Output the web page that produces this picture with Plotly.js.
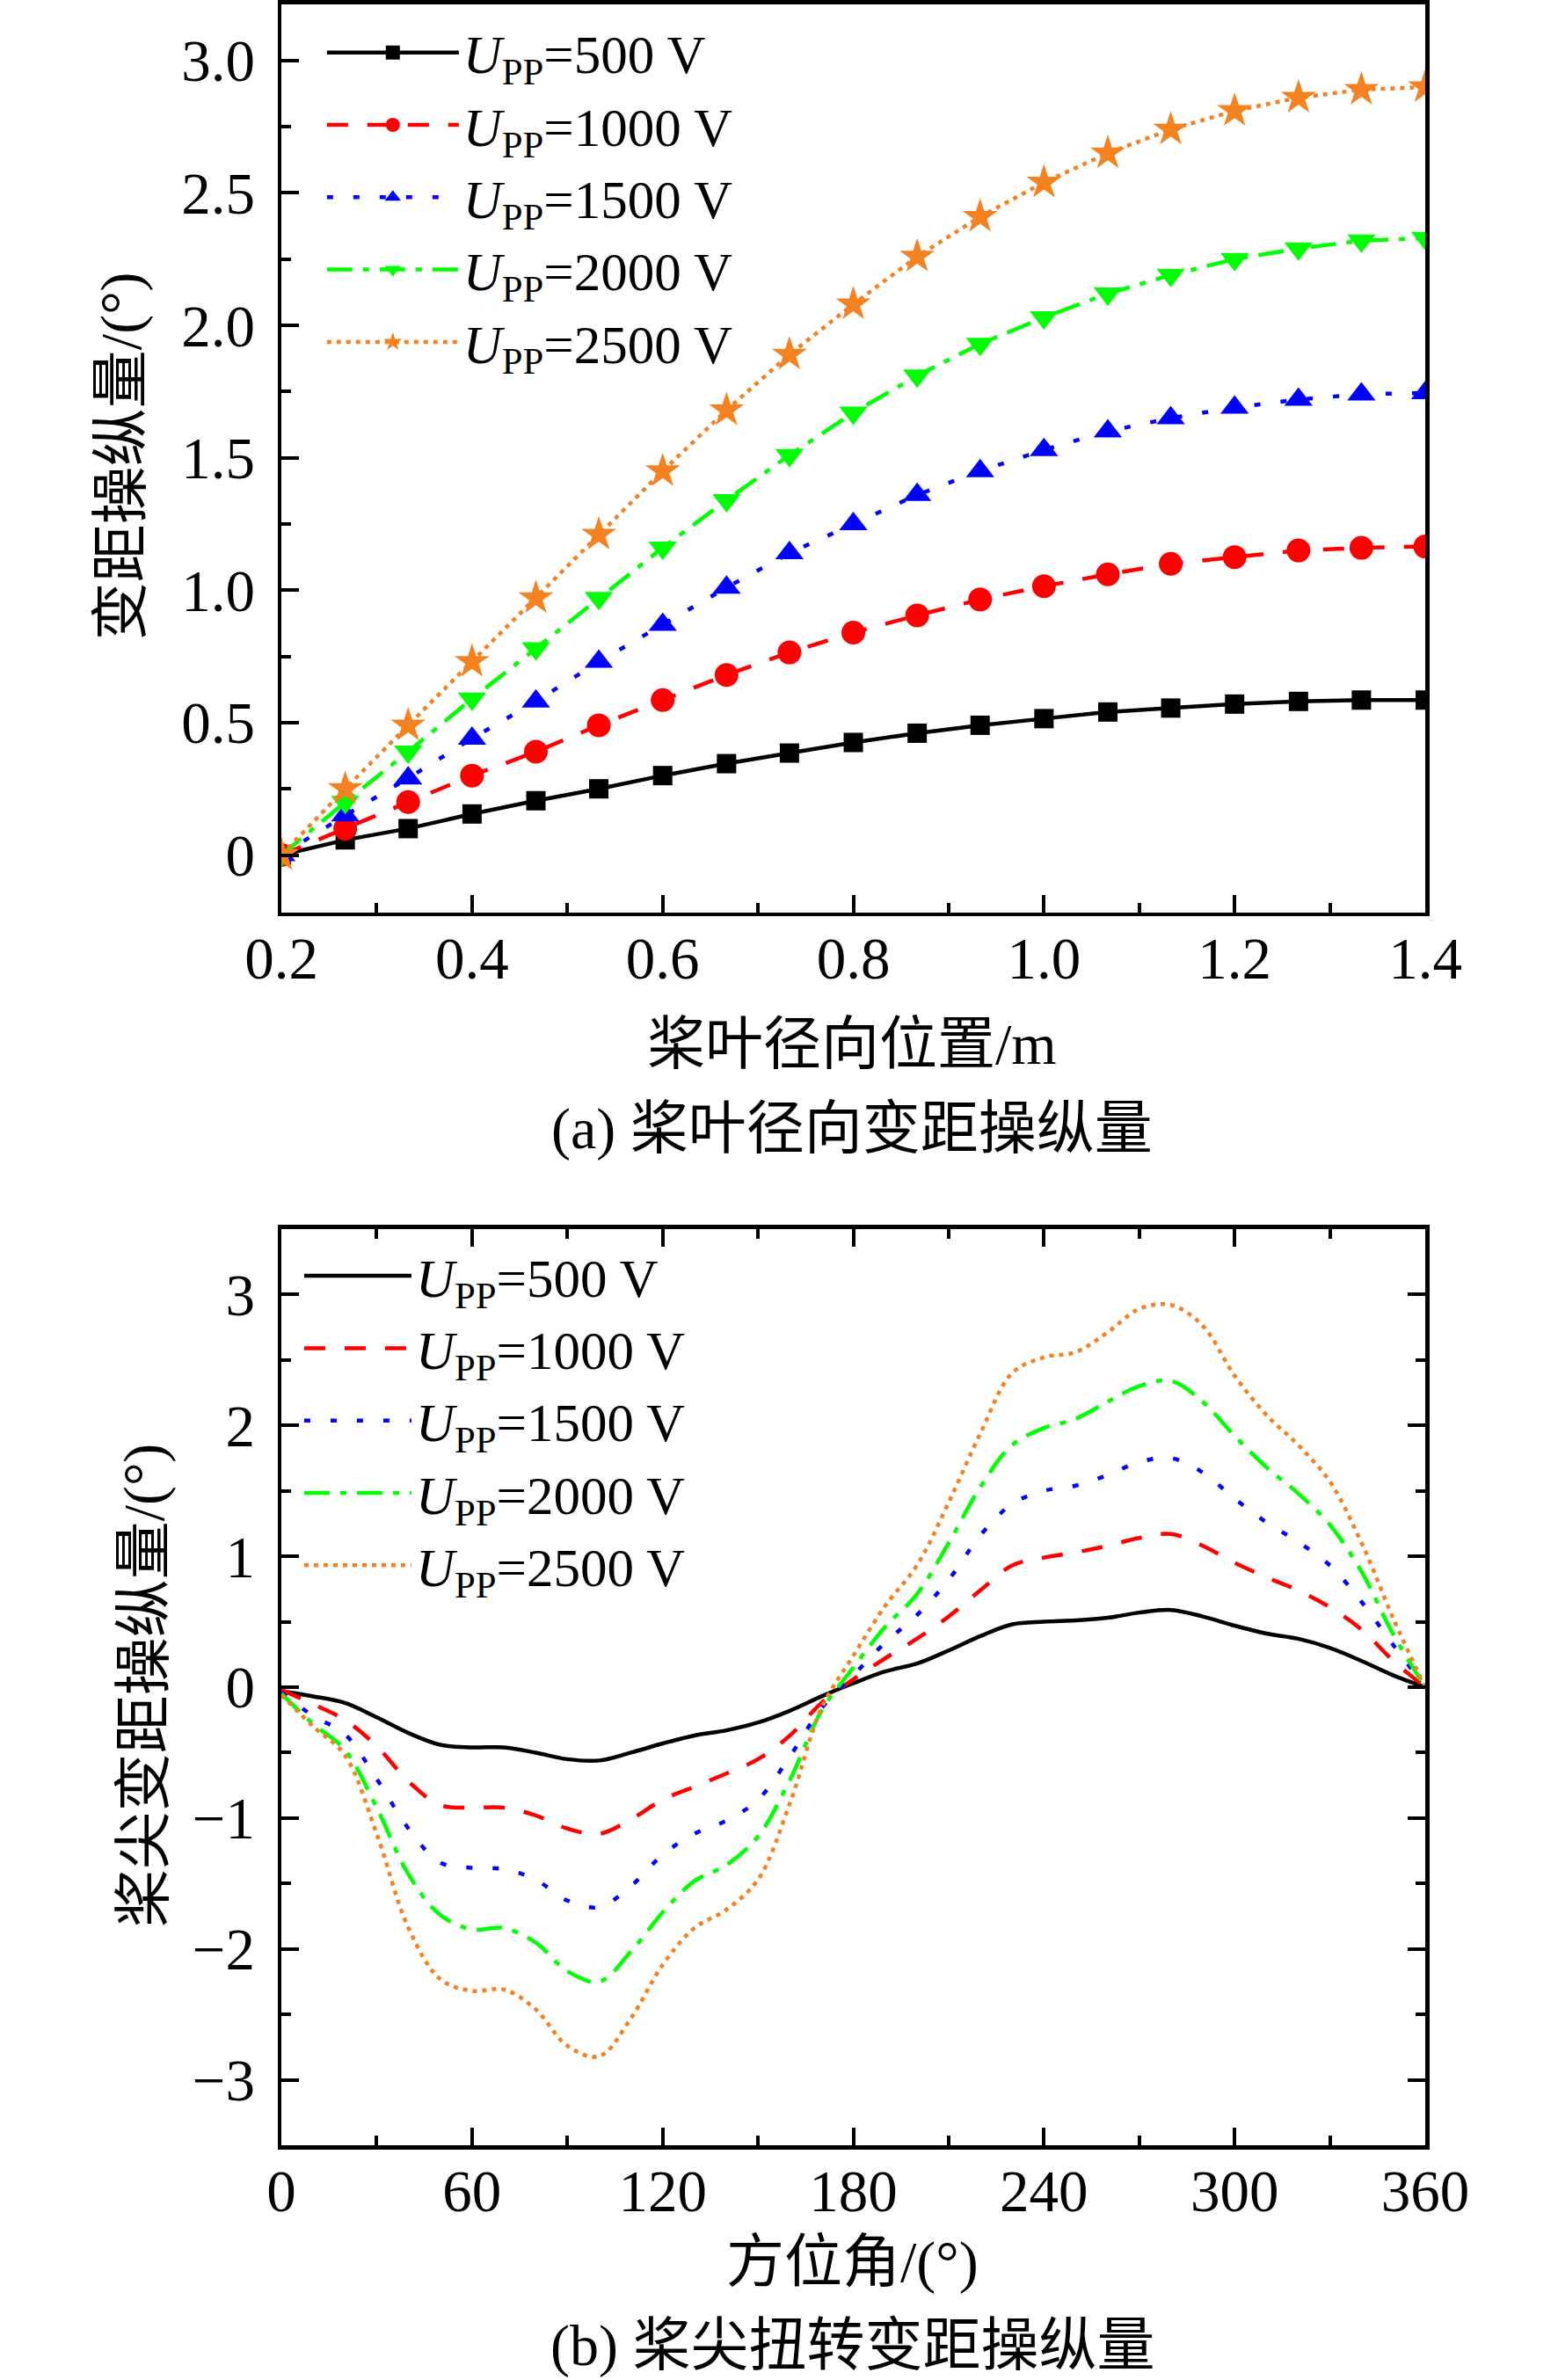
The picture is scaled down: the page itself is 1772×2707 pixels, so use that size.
<!DOCTYPE html>
<html>
<head>
<meta charset="utf-8">
<script src="https://cdn.plot.ly/plotly-3.0.1.min.js"></script>
<style>html,body{margin:0;padding:0;background:#fff;}</style>
</head>
<body>
<div id="chart" style="width:1772px;height:2707px;"></div>
<script>
// ---------- data ----------
const legendNames = ['<i>U</i><sub>PP</sub>=500 V', '<i>U</i><sub>PP</sub>=1000 V', '<i>U</i><sub>PP</sub>=1500 V', '<i>U</i><sub>PP</sub>=2000 V', '<i>U</i><sub>PP</sub>=2500 V'];

// (a) radial position (m)
const radialPos = [0.2, 0.267, 0.333, 0.4, 0.467, 0.533, 0.6, 0.667, 0.733, 0.8, 0.867, 0.933, 1.0, 1.067, 1.133, 1.2, 1.267, 1.333, 1.4];
const pitchA500  = [0, 0.057, 0.10, 0.155, 0.205, 0.25, 0.30, 0.345, 0.385, 0.425, 0.46, 0.49, 0.515, 0.54, 0.555, 0.57, 0.58, 0.585, 0.585];
const pitchA1000 = [0, 0.10, 0.20, 0.30, 0.39, 0.49, 0.585, 0.68, 0.765, 0.84, 0.905, 0.965, 1.015, 1.06, 1.10, 1.125, 1.15, 1.16, 1.165];
const pitchA1500 = [0, 0.15, 0.29, 0.44, 0.58, 0.73, 0.87, 1.01, 1.14, 1.25, 1.36, 1.45, 1.53, 1.60, 1.65, 1.69, 1.72, 1.74, 1.745];
const pitchA2000 = [0, 0.20, 0.39, 0.59, 0.78, 0.97, 1.16, 1.34, 1.51, 1.67, 1.81, 1.93, 2.03, 2.12, 2.19, 2.25, 2.29, 2.32, 2.33];
const pitchA2500 = [0, 0.25, 0.49, 0.73, 0.97, 1.21, 1.45, 1.68, 1.89, 2.08, 2.26, 2.41, 2.54, 2.65, 2.74, 2.81, 2.86, 2.89, 2.90];

// (b) azimuth (deg)
const azimuth = [0,10,20,30,40,50,60,70,80,90,100,110,120,130,140,150,160,170,180,190,200,210,220,230,240,250,260,270,280,290,300,310,320,330,340,350,360];
const tipB500  = [-0.03,-0.07,-0.12,-0.23,-0.35,-0.44,-0.46,-0.46,-0.50,-0.55,-0.56,-0.50,-0.43,-0.37,-0.33,-0.27,-0.18,-0.07,0.03,0.12,0.18,0.28,0.39,0.48,0.50,0.51,0.53,0.57,0.59,0.54,0.47,0.41,0.37,0.30,0.20,0.09,0.00];
const tipB1000 = [-0.02,-0.13,-0.25,-0.45,-0.72,-0.90,-0.92,-0.92,-0.98,-1.08,-1.12,-1.01,-0.86,-0.76,-0.66,-0.55,-0.37,-0.12,0.06,0.22,0.37,0.54,0.74,0.93,0.99,1.03,1.08,1.14,1.17,1.08,0.95,0.84,0.74,0.61,0.44,0.20,0.00];
const tipB1500 = [-0.04,-0.22,-0.36,-0.70,-1.08,-1.34,-1.38,-1.39,-1.47,-1.63,-1.68,-1.52,-1.28,-1.12,-1.02,-0.86,-0.53,-0.16,0.09,0.34,0.55,0.82,1.16,1.40,1.50,1.54,1.62,1.72,1.75,1.64,1.44,1.26,1.11,0.93,0.65,0.32,0.00];
const tipB2000 = [-0.05,-0.28,-0.48,-0.92,-1.43,-1.74,-1.85,-1.84,-1.95,-2.17,-2.25,-2.02,-1.72,-1.48,-1.36,-1.14,-0.71,-0.18,0.15,0.46,0.71,1.10,1.53,1.85,1.98,2.05,2.18,2.30,2.34,2.18,1.92,1.68,1.48,1.24,0.88,0.40,0.00];
const tipB2500 = [-0.06,-0.30,-0.52,-1.12,-1.84,-2.23,-2.32,-2.31,-2.46,-2.74,-2.82,-2.53,-2.12,-1.84,-1.70,-1.47,-0.89,-0.16,0.24,0.62,0.93,1.41,1.94,2.40,2.52,2.56,2.71,2.89,2.92,2.76,2.38,2.08,1.85,1.57,1.10,0.52,0.00];

// tick labels
const aXTicks = [0.2, 0.4, 0.6, 0.8, 1.0, 1.2, 1.4];
const aXTickText = ['0.2', '0.4', '0.6', '0.8', '1.0', '1.2', '1.4'];
const aYTicks = [0, 0.5, 1.0, 1.5, 2.0, 2.5, 3.0];
const aYTickText = ['0', '0.5', '1.0', '1.5', '2.0', '2.5', '3.0'];
const bXTicks = [0, 60, 120, 180, 240, 300, 360];
const bYTicks = [-3, -2, -1, 0, 1, 2, 3];
const bYTickText = ['\u22123', '\u22122', '\u22121', '0', '1', '2', '3'];

// ---------- styles ----------
const colors = ['#000000', '#FF0000', '#0000FF', '#00FF00', '#F58220'];
const dashes = ['solid', '24px,22px', '7px,23px', '29px,12px,7px,12px', '5px,6px'];
const symbols = ['square', 'circle', 'triangle-up', 'triangle-down', 'star'];
const msizes = [22, 27, 28, 28, 30];
const FONT = 'Liberation Serif, "Times New Roman", "Noto Sans CJK SC", serif';

const aSeries = [pitchA500, pitchA1000, pitchA1500, pitchA2000, pitchA2500];
const bSeries = [tipB500, tipB1000, tipB1500, tipB2000, tipB2500];

const traces = [];
aSeries.forEach((ys, i) => {
  traces.push({
    x: radialPos, y: ys, type: 'scatter', mode: 'lines+markers',
    name: legendNames[i], xaxis: 'x', yaxis: 'y', legend: 'legend',
    line: {color: colors[i], width: 4.5, dash: dashes[i]},
    marker: {symbol: symbols[i], size: msizes[i], color: colors[i], line: {width: 0}}
  });
});
bSeries.forEach((ys, i) => {
  traces.push({
    x: azimuth, y: ys, type: 'scatter', mode: 'lines',
    name: legendNames[i], xaxis: 'x2', yaxis: 'y2', legend: 'legend2',
    line: {color: colors[i], width: 4.5, dash: dashes[i], shape: 'spline', smoothing: 1}
  });
});

const axisBase = {
  showgrid: false, zeroline: false, showline: true, linecolor: '#000', linewidth: 4.5,
  ticks: 'inside', ticklen: 20, tickwidth: 4, tickcolor: '#000',
  tickfont: {family: FONT, size: 67, color: '#000'}
};
const xStand = -10, yStand = 12;

const layout = {
  width: 1772, height: 2707,
  margin: {l: 0, r: 0, t: 0, b: 0},
  paper_bgcolor: '#fff', plot_bgcolor: '#fff',
  font: {family: FONT, size: 66, color: '#000'},
  showlegend: true,
  xaxis: Object.assign({}, axisBase, {
    domain: [0.1806, 0.9148], anchor: 'y', range: [0.2, 1.4], mirror: true, ticklabelstandoff: xStand,
    tickmode: 'array', tickvals: aXTicks, ticktext: aXTickText,
    minor: {dtick: 0.1, tick0: 0.2, ticks: 'inside', ticklen: 11, tickwidth: 4, tickcolor: '#000'}
  }),
  yaxis: Object.assign({}, axisBase, {
    domain: [0.6166, 0.9982], anchor: 'x', range: [-0.217, 3.2125], mirror: true, ticklabelstandoff: yStand,
    tickmode: 'array', tickvals: aYTicks, ticktext: aYTickText,
    minor: {dtick: 0.25, tick0: 0, ticks: 'inside', ticklen: 11, tickwidth: 4, tickcolor: '#000'}
  }),
  xaxis2: Object.assign({}, axisBase, {
    domain: [0.1806, 0.9148], anchor: 'y2', range: [0, 360], mirror: 'ticks', ticklabelstandoff: xStand,
    tickmode: 'array', tickvals: bXTicks,
    minor: {dtick: 30, tick0: 0, ticks: 'inside', ticklen: 11, tickwidth: 4, tickcolor: '#000'}
  }),
  yaxis2: Object.assign({}, axisBase, {
    domain: [0.0986, 0.4836], anchor: 'x2', range: [-3.5, 3.5], mirror: 'ticks', ticklabelstandoff: yStand,
    tickmode: 'array', tickvals: bYTicks, ticktext: bYTickText,
    minor: {dtick: 0.5, tick0: 0, ticks: 'inside', ticklen: 11, tickwidth: 4, tickcolor: '#000'}
  }),
  legend: {
    x: 0.207, y: 0.995, xanchor: 'left', yanchor: 'top', bgcolor: 'rgba(0,0,0,0)',
    font: {family: FONT, size: 61, color: '#000'}, itemwidth: 150, tracegroupgap: 0,
    itemclick: false
  },
  legend2: {
    x: 0.1924, y: 0.481, xanchor: 'left', yanchor: 'top', bgcolor: 'rgba(0,0,0,0)',
    font: {family: FONT, size: 61, color: '#000'}, itemwidth: 122, tracegroupgap: 0,
    itemclick: false
  },
  annotations: [
    {text: '桨叶径向位置/m', xref: 'paper', yref: 'paper', x: 0.547, y: 0.5615, xanchor: 'center', yanchor: 'middle', showarrow: false, font: {family: FONT, size: 66}},
    {text: '(a) 桨叶径向变距操纵量', xref: 'paper', yref: 'paper', x: 0.547, y: 0.5257, xanchor: 'center', yanchor: 'middle', showarrow: false, font: {family: FONT, size: 66}},
    {text: '方位角/(°)', xref: 'paper', yref: 'paper', x: 0.547, y: 0.0495, xanchor: 'center', yanchor: 'middle', showarrow: false, font: {family: FONT, size: 66}},
    {text: '(b) 桨尖扭转变距操纵量', xref: 'paper', yref: 'paper', x: 0.547, y: 0.0145, xanchor: 'center', yanchor: 'middle', showarrow: false, font: {family: FONT, size: 66}},
    {text: '变距操纵量/(°)', xref: 'paper', yref: 'paper', x: 0.078, y: 0.8083, xanchor: 'center', yanchor: 'middle', textangle: -90, showarrow: false, font: {family: FONT, size: 66}},
    {text: '桨尖变距操纵量/(°)', xref: 'paper', yref: 'paper', x: 0.0927, y: 0.2918, xanchor: 'center', yanchor: 'middle', textangle: -90, showarrow: false, font: {family: FONT, size: 66}}
  ]
};

Plotly.newPlot('chart', traces, layout, {displayModeBar: false, staticPlot: true});
</script>
</body>
</html>
